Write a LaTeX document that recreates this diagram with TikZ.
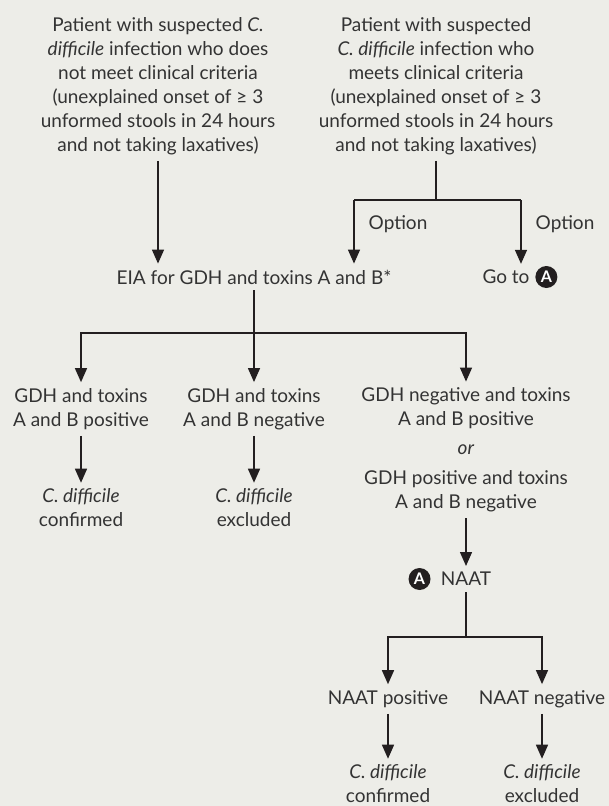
\documentclass[tikz,border=0pt]{standalone}
\usepackage{fontspec}
\setmainfont{Lato}
\usetikzlibrary{arrows.meta,positioning}
\definecolor{bgc}{RGB}{237,237,232}
\definecolor{inkc}{RGB}{51,51,51}
\definecolor{linec}{RGB}{35,31,32}

\begin{document}
\begin{tikzpicture}[x=1pt,y=-1pt,font=\fontsize{19}{24}\selectfont,text=inkc,
  box/.style={align=center,inner xsep=2pt,inner ysep=6pt},
  ln/.style={draw=linec,line width=1.4pt},
  arr/.style={ln,-{Triangle[width=12pt,length=14pt]}},
  opt/.style={pos=.38,anchor=west,inner sep=0pt,xshift=14pt},
  markA/.style={circle,fill=linec,text=white,minimum size=22pt,inner sep=0pt,font=\fontsize{16}{16}\selectfont\bfseries}]
\useasboundingbox (0,0) rectangle (609,806);
\fill[bgc] (0,0) rectangle (609,806);
% top row
\node[box] (pat1) at (158,86) {Patient with suspected \textit{C.}\\\textit{difficile} infection who does\\not meet clinical criteria\\(unexplained onset of ≥ 3\\unformed stools in 24 hours\\and not taking laxatives)};
\node[box] (pat2) at (436,86) {Patient with suspected\\\textit{C. difficile} infection who\\meets clinical criteria\\(unexplained onset of ≥ 3\\unformed stools in 24 hours\\and not taking laxatives)};
\node[box] (eia) at (254,277) {EIA for GDH and toxins A and B*};
\node[box] (goto) at (506,277) {Go to};
\node[markA,right=3.5pt of goto] (gotoA) {A};
% results of EIA
\node[box] (gdhpos) at (81,409) {GDH and toxins\\A and B positive};
\node[box] (gdhneg) at (254,409) {GDH and toxins\\A and B negative};
\node[box] (mixed) at (466,450) {GDH negative and toxins\\A and B positive\\[5pt]\textit{or}\\[6pt]GDH positive and toxins\\A and B negative};
\node[box] (conf1) at (81,508) {\textit{C. difficile}\\confirmed};
\node[box] (excl1) at (254,508) {\textit{C. difficile}\\excluded};
% NAAT
\node[box] (naat) at (466,579) {NAAT};
\node[markA,left=8pt of naat] (naatA) {A};
\node[box] (naatpos) at (388,699) {NAAT positive};
\node[box] (naatneg) at (542,699) {NAAT negative};
\node[box] (conf2) at (388,784) {\textit{C. difficile}\\confirmed};
\node[box] (excl2) at (542,784) {\textit{C. difficile}\\excluded};
\coordinate (optL) at (354,200);
\coordinate (optR) at (521,200);
\coordinate (split1) at (254,333);
\coordinate (split2) at (466,637);
% connectors
\draw[arr] (pat1) -- (pat1 |- eia.north);
\draw[ln] (pat2) -- (pat2 |- optL);
\draw[ln] (optL) -- (optR);
\draw[arr] (optL) -- node[opt] {Option} (optL |- eia.north);
\draw[arr] (optR) -- node[opt] {Option} (optR |- goto.north);
\draw[ln] (eia) -- (split1);
\draw[arr] (split1) -| (gdhpos);
\draw[arr] (split1) -- (gdhneg);
\draw[arr] (split1) -| (mixed);
\draw[arr] (gdhpos) -- (conf1);
\draw[arr] (gdhneg) -- (excl1);
\draw[arr] (mixed) -- (naat);
\draw[ln] (naat) -- (split2);
\draw[arr] (split2) -| (naatpos);
\draw[arr] (split2) -| (naatneg);
\draw[arr] (naatpos) -- (conf2);
\draw[arr] (naatneg) -- (excl2);
\end{tikzpicture}
\end{document}
